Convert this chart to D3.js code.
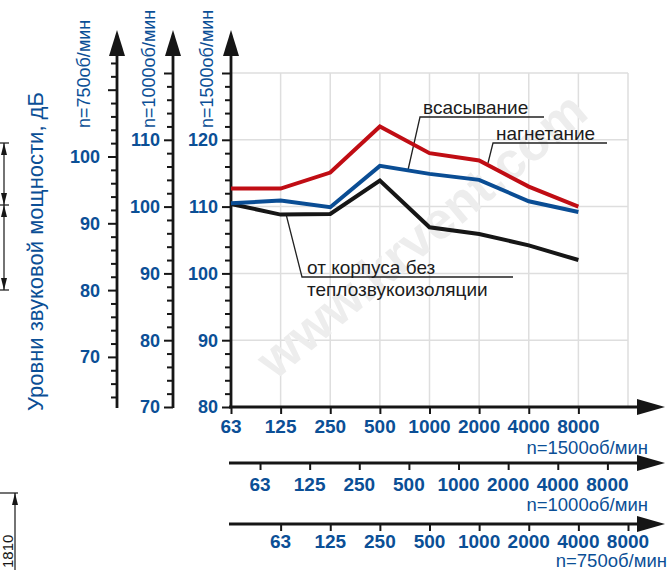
<!DOCTYPE html>
<html>
<head>
<meta charset="utf-8">
<script src="https://cdn.jsdelivr.net/npm/d3@7"></script>
<style>
  html, body { margin: 0; padding: 0; background: #fff; }
  svg { display: block; }
  text { font-family: "Liberation Sans", Arial, sans-serif; }
</style>
</head>
<body>
<svg id="chart" width="671" height="570"></svg>
<script>
// Octave band centre frequencies, Hz
const bands = ["63", "125", "250", "500", "1000", "2000", "4000", "8000"];
// Sound power levels, dB (read on the n=1500 rpm scale)
const suction   = [110.5, 110.9, 109.9, 116.1, 114.9, 114.0, 110.8, 109.2];
const discharge = [112.7, 112.7, 115.1, 122.0, 118.0, 116.9, 113.0, 110.0];
const casing    = [110.4, 108.8, 108.9, 113.9, 106.9, 105.9, 104.2, 102.0];
// Fan speeds, rpm
const speeds = [1500, 1000, 750];
// Level scales for each speed: lower / upper bound of the drawn range, labelled ticks
const levelDomains = { 1500: [80, 130], 1000: [70, 120], 750: [62.5, 112.5] };
const levelLabels  = { 1500: [80, 90, 100, 110, 120], 1000: [70, 80, 90, 100, 110], 750: [70, 80, 90, 100] };
const levelTicks   = { 1500: d3.range(80, 131, 2), 1000: d3.range(70, 121, 2), 750: d3.range(64, 115, 2) };

const blue = "#0b4f96", red = "#c00d14", navy = "#0a4d94", ink = "#161616";
const svg = d3.select("#chart");

// Horizontal position in octaves; the base scale belongs to n=1500
const x = d3.scaleLinear().domain([0, 8]).range([231, 628]);
const yTop = 73, yBottom = 407;
const yScales = {};
speeds.forEach(n => { yScales[n] = d3.scaleLinear().domain(levelDomains[n]).range([yBottom, yTop]); });
const y = yScales[1500];

// ---- grid ----
const grid = svg.append("g").attr("stroke", "#dedede").attr("stroke-width", 1.5);
[90, 100, 110, 120, 130].forEach(v => {
  grid.append("line").attr("x1", x(0)).attr("x2", x(8)).attr("y1", y(v)).attr("y2", y(v));
});
d3.range(1, 9).forEach(i => {
  grid.append("line").attr("x1", x(i)).attr("x2", x(i)).attr("y1", y(130)).attr("y2", yBottom);
});

// ---- watermark ----
svg.append("text")
  .attr("transform", "translate(424,238) rotate(-40)")
  .attr("text-anchor", "middle").attr("dominant-baseline", "middle")
  .attr("font-size", 52).attr("font-weight", "bold")
  .attr("fill", "#ededed")
  .text("www.krvent.com");

// ---- vertical level axes ----
const axisX = { 750: 117, 1000: 173, 1500: 231 };
const labelGap = { 750: 17, 1000: 13, 1500: 13 };
function arrowUp(g, cx) {
  g.append("path").attr("d", `M${cx - 8},56 L${cx},30 L${cx + 8},56 Z`).attr("fill", ink);
}
speeds.forEach(n => {
  const ys = yScales[n];
  const g = svg.append("g").attr("transform", `translate(${axisX[n]},0)`);
  const majors = new Set(d3.range(60, 140, 10));
  const ax = d3.axisLeft(ys)
    .tickValues(levelTicks[n])
    .tickSize(0)
    .tickFormat("");
  g.call(ax);
  g.select(".domain").remove();
  g.selectAll(".tick line")
    .attr("x2", d => (majors.has(d) ? -9 : -6))
    .attr("stroke", ink).attr("stroke-width", 2);
  g.append("line").attr("x1", 0).attr("x2", 0).attr("y1", 408).attr("y2", 54)
    .attr("stroke", ink).attr("stroke-width", 2.8);
  arrowUp(g, 0);
  g.selectAll(".lbl").data(levelLabels[n]).join("text")
    .attr("class", "lbl")
    .attr("x", -labelGap[n]).attr("y", d => ys(d)).attr("dy", "0.36em")
    .attr("text-anchor", "end")
    .attr("font-size", 18).attr("font-weight", "bold").attr("fill", blue)
    .text(d => d);
  svg.append("text")
    .attr("transform", `translate(${axisX[n] - (n === 750 ? 27 : 18)},128) rotate(-90)`)
    .attr("font-size", 18).attr("fill", blue)
    .text(`n=${n}об/мин`);
});

// axis title
svg.append("text")
  .attr("transform", "translate(43,411) rotate(-90)")
  .attr("font-size", 22).attr("fill", blue)
  .text("Уровни звуковой мощности, дБ");

// ---- frequency axes ----
const freqRows = [
  { n: 1500, y: 407, lblY: 433, nameY: 454, nameX: 648, x0: 229 },
  { n: 1000, y: 463, lblY: 491, nameY: 511, nameX: 648, x0: 229 },
  { n: 750,  y: 524, lblY: 548, nameY: 567, nameX: 667, x0: 229 }
];
freqRows.forEach(r => {
  const off = Math.log2(1500 / r.n);
  const g = svg.append("g").attr("transform", `translate(0,${r.y})`);
  const ax = d3.axisBottom(x)
    .tickValues(bands.map((b, i) => i + off))
    .tickSize(7)
    .tickFormat("");
  g.call(ax);
  g.select(".domain").remove();
  g.selectAll(".tick line").attr("stroke", ink).attr("stroke-width", 2);
  g.append("line").attr("x1", r.x0).attr("x2", 640).attr("y1", 0).attr("y2", 0)
    .attr("stroke", ink).attr("stroke-width", 2.8);
  g.append("path").attr("d", "M637,-8 L665,0 L637,8 Z").attr("fill", ink);
  svg.selectAll(null).data(bands).join("text")
    .attr("x", (d, i) => x(i + off)).attr("y", r.lblY)
    .attr("text-anchor", "middle")
    .attr("font-size", 19).attr("font-weight", "bold").attr("fill", blue)
    .text(d => d);
  svg.append("text")
    .attr("x", r.nameX).attr("y", r.nameY).attr("text-anchor", "end")
    .attr("font-size", 18.5).attr("fill", blue)
    .text(`n=${r.n}об/мин`);
});

// ---- leader lines and curve labels ----
const lead = svg.append("g").attr("stroke", "#222").attr("stroke-width", 1.3).attr("fill", "none");
lead.append("polyline").attr("points", "408,170 420,117 544,117");
lead.append("polyline").attr("points", "488,163 493,143 607,143");
lead.append("polyline").attr("points", "286,214 302,277 513,277");

const note = svg.append("g").attr("font-size", 19).attr("fill", "#1c1c1c");
note.append("text").attr("x", 423).attr("y", 114).text("всасывание");
note.append("text").attr("x", 496).attr("y", 140).text("нагнетание");
note.append("text").attr("x", 307).attr("y", 274).text("от корпуса без");
note.append("text").attr("x", 307).attr("y", 296).text("теплозвукоизоляции");

// ---- curves ----
const line = d3.line().x((d, i) => x(i)).y(d => y(d));
[[casing, ink], [suction, navy], [discharge, red]].forEach(([vals, col]) => {
  svg.append("path").datum(vals).attr("d", line)
    .attr("fill", "none").attr("stroke", col).attr("stroke-width", 4)
    .attr("stroke-linejoin", "miter");
});

// ---- dimension marks at the left edge ----
const dim = svg.append("g").attr("stroke", ink).attr("stroke-width", 1.2).attr("fill", "none");
dim.append("line").attr("x1", 4).attr("x2", 4).attr("y1", 143).attr("y2", 290);
[143, 205, 290].forEach(v => dim.append("line").attr("x1", 0).attr("x2", 9).attr("y1", v).attr("y2", v));
const arrowsDim = svg.append("g").attr("fill", ink);
[[143, 1], [205, -1], [205, 1], [290, -1]].forEach(([v, s]) => {
  arrowsDim.append("path").attr("d", `M1,${v + s * 12} L4,${v} L7,${v + s * 12} Z`);
});
dim.append("line").attr("x1", 15).attr("x2", 15).attr("y1", 493).attr("y2", 570);
dim.append("line").attr("x1", 0).attr("x2", 18).attr("y1", 493).attr("y2", 493);
arrowsDim.append("path").attr("d", "M12,505 L15,493 L18,505 Z");
svg.append("text")
  .attr("transform", "translate(13,568) rotate(-90)")
  .attr("font-size", 15).attr("fill", ink)
  .text("1810");
</script>
</body>
</html>
